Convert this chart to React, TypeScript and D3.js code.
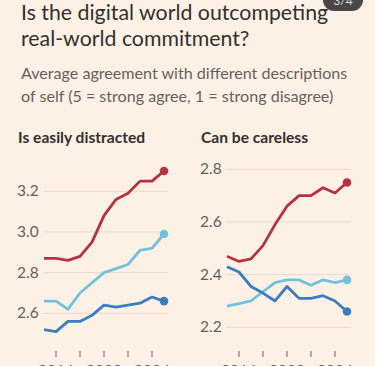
import React from "react";
import * as d3 from "d3";

const years = [2015, 2016, 2017, 2018, 2019, 2020, 2021, 2022, 2023, 2024, 2025];
const xTickYears = [2016, 2018, 2020, 2022, 2024];
const xLabelYears = [2016, 2020, 2024];

// Is easily distracted
const distractedRed = [2.87, 2.87, 2.86, 2.88, 2.95, 3.08, 3.16, 3.19, 3.25, 3.25, 3.3];
const distractedLight = [2.66, 2.66, 2.62, 2.7, 2.75, 2.8, 2.82, 2.84, 2.91, 2.92, 2.99];
const distractedDark = [2.52, 2.51, 2.56, 2.56, 2.59, 2.64, 2.63, 2.64, 2.65, 2.68, 2.66];
const distractedTicks = [2.6, 2.8, 3.0, 3.2];

// Can be careless
const carelessRed = [2.47, 2.45, 2.46, 2.51, 2.59, 2.66, 2.7, 2.7, 2.73, 2.71, 2.75];
const carelessLight = [2.28, 2.29, 2.3, 2.335, 2.37, 2.38, 2.38, 2.36, 2.38, 2.37, 2.38];
const carelessDark = [2.43, 2.41, 2.355, 2.33, 2.3, 2.355, 2.31, 2.31, 2.32, 2.3, 2.26];
const carelessTicks = [2.2, 2.4, 2.6, 2.8];

const RED = "#b5323f";
const LIGHT = "#72c2dd";
const DARK = "#3b7ec0";
const BG = "#fdf1e6";
const FONT = "Lato, 'Open Sans', sans-serif";

type PanelProps = {
  title: string;
  left: number;
  ticks: number[];
  yDomain: [number, number];
  yRange: [number, number];
  series: { values: number[]; color: string }[];
};

const Panel = ({ title, left, ticks, yDomain, yRange, series }: PanelProps) => {
  const x = d3.scaleLinear().domain([2015, 2025]).range([left + 26, left + 146]);
  const y = d3.scaleLinear().domain(yDomain).range(yRange);
  const line = d3
    .line<number>()
    .x((_, i) => x(years[i]))
    .y((d) => y(d));

  return (
    <g>
      <text x={left} y={143} fontSize={15.6} fontWeight={700} fill="#33302e">
        {title}
      </text>
      {ticks.map((t) => (
        <g key={t}>
          <line x1={left + 26} x2={left + 150} y1={y(t)} y2={y(t)} stroke="#e6d9ce" strokeWidth={1} />
          <text x={left - 1} y={y(t) + 5} fontSize={15.5} fill="#66605c">
            {t.toFixed(1)}
          </text>
        </g>
      ))}
      {series.map((s, i) => (
        <g key={i}>
          <path d={line(s.values) ?? ""} fill="none" stroke={s.color} strokeWidth={2.8} strokeLinejoin="round" />
          <circle cx={x(years[years.length - 1])} cy={y(s.values[s.values.length - 1])} r={4.3} fill={s.color} />
        </g>
      ))}
      {xTickYears.map((yr) => (
        <line key={yr} x1={x(yr)} x2={x(yr)} y1={351} y2={357} stroke="#66605c" strokeWidth={1} />
      ))}
      {xLabelYears.map((yr) => (
        <text key={yr} x={x(yr)} y={376} fontSize={15.5} fill="#66605c" textAnchor="middle">
          {yr}
        </text>
      ))}
    </g>
  );
};

const App = () => {
  return (
    <svg
      width={375}
      height={366}
      style={{ position: "absolute", left: 0, top: 0, background: BG, fontFamily: FONT }}
    >
      <rect width={375} height={366} fill={BG} />
      <text x={21} y={20} fontSize={21.3} fill="#33302e">
        Is the digital world outcompeting
      </text>
      <text x={21} y={46} fontSize={21.3} fill="#33302e">
        real-world commitment?
      </text>
      <rect x={323} y={-12} width={40} height={23} rx={11} fill="#4a4746" />
      <text x={343} y={5} fontSize={12} fill="#ddd" textAnchor="middle">
        3/4
      </text>
      <text x={21} y={79} fontSize={16.1} fill="#66605c">
        Average agreement with different descriptions
      </text>
      <text x={21} y={102} fontSize={16.1} fill="#66605c">
        of self (5 = strong agree, 1 = strong disagree)
      </text>
      <Panel
        title="Is easily distracted"
        left={18}
        ticks={distractedTicks}
        yDomain={[2.6, 3.2]}
        yRange={[313.3, 191.3]}
        series={[
          { values: distractedRed, color: RED },
          { values: distractedLight, color: LIGHT },
          { values: distractedDark, color: DARK },
        ]}
      />
      <Panel
        title="Can be careless"
        left={201}
        ticks={carelessTicks}
        yDomain={[2.2, 2.8]}
        yRange={[327.3, 169.3]}
        series={[
          { values: carelessRed, color: RED },
          { values: carelessLight, color: LIGHT },
          { values: carelessDark, color: DARK },
        ]}
      />
    </svg>
  );
};

export default App;
